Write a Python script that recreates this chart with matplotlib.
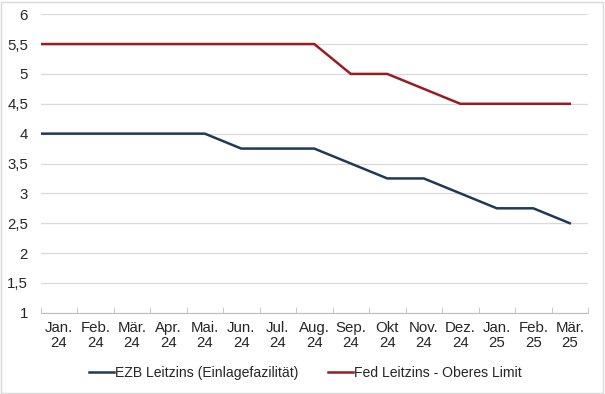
import matplotlib.pyplot as plt
from matplotlib.ticker import FuncFormatter, FixedLocator
from matplotlib.patches import Rectangle

plt.rcParams['font.family'] = ['Liberation Sans', 'DejaVu Sans']

# data (first value = Dez. 23, outside the visible range)
months = ["Jan.\n24", "Feb.\n24", "Mär.\n24", "Apr.\n24", "Mai.\n24", "Jun.\n24", "Jul.\n24",
          "Aug.\n24", "Sep.\n24", "Okt\n24", "Nov.\n24", "Dez.\n24", "Jan.\n25", "Feb.\n25", "Mär.\n25"]
ezb = [4, 4, 4, 4, 4, 4, 3.75, 3.75, 3.75, 3.5, 3.25, 3.25, 3.0, 2.75, 2.75, 2.5]
fed = [5.5, 5.5, 5.5, 5.5, 5.5, 5.5, 5.5, 5.5, 5.5, 5.0, 5.0, 4.75, 4.5, 4.5, 4.5, 4.5]

fs = 10.8
fig = plt.figure(figsize=(6.05, 3.94), dpi=100)
ax = fig.add_axes([0.067, 0.206, 0.905, 0.758])
x = list(range(-1, len(months)))
ax.plot(x, ezb, color='#1f3a58', lw=1.8, label="EZB Leitzins (Einlagefazilität)")
ax.plot(x, fed, color='#9a1c20', lw=1.8, label="Fed Leitzins - Oberes Limit")

ax.set_xlim(-0.5, len(months) - 0.5)
ax.set_ylim(1, 6)
ax.set_yticks([1 + 0.5 * i for i in range(11)])
ax.yaxis.set_major_formatter(FuncFormatter(lambda v, p: ('%g' % v).replace('.', ',')))
ax.grid(axis='y', color='#d9d9d9', lw=0.9)
ax.set_axisbelow(True)
ax.set_xticks(range(len(months)))
ax.set_xticklabels(months, fontsize=fs, color='#262626', linespacing=1.05)
ax.xaxis.set_minor_locator(FixedLocator([i + 0.5 for i in range(-1, len(months))]))
ax.tick_params(axis='x', which='major', length=0, pad=6)
ax.tick_params(axis='x', which='minor', length=4, color='#bfbfbf', direction='in')
ax.tick_params(axis='y', length=0, labelsize=fs, labelcolor='#262626', pad=9)
for s in ['top', 'right', 'left']:
    ax.spines[s].set_visible(False)
ax.spines['bottom'].set_color('#bfbfbf')

fig.legend(loc='center', bbox_to_anchor=(0.505, 0.053), ncol=2, frameon=False,
           fontsize=10.1, handlelength=1.8, columnspacing=2.1, handletextpad=0.08,
           labelcolor='#262626')
fig.patches.append(Rectangle((0.002, 0.003), 0.995, 0.993, transform=fig.transFigure,
                             fill=False, edgecolor='#d9d9d9', lw=1))
plt.savefig("out.png", dpi=100)
